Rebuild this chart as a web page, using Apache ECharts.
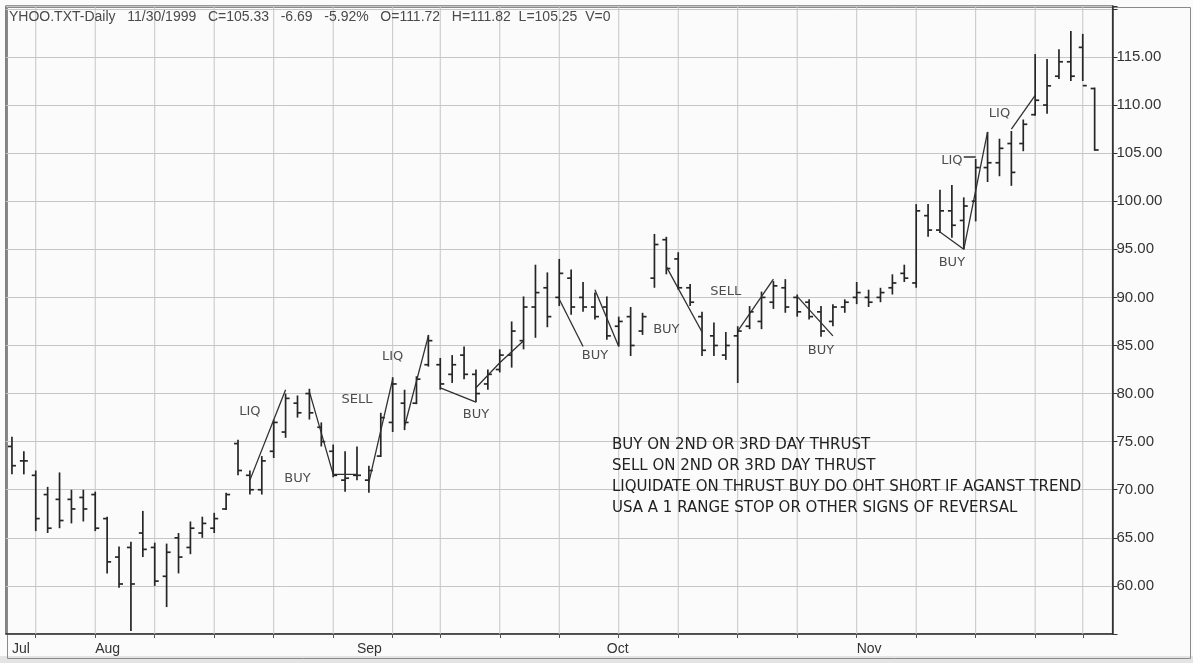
<!DOCTYPE html>
<html><head><meta charset="utf-8">
<script src="https://cdn.jsdelivr.net/npm/echarts@6/dist/echarts.min.js"></script>
<style>html,body{margin:0;padding:0;background:#fbfbfb}#c{width:1193px;height:663px}</style>
</head><body><div id="c"></div>
<script>
// ---- data ----
const dates = [
 '1999-07-22','1999-07-23','1999-07-26','1999-07-27','1999-07-28','1999-07-29','1999-07-30',
 '1999-08-02','1999-08-03','1999-08-04','1999-08-05','1999-08-06','1999-08-09','1999-08-10','1999-08-11','1999-08-12','1999-08-13',
 '1999-08-16','1999-08-17','1999-08-18','1999-08-19','1999-08-20','1999-08-23','1999-08-24','1999-08-25','1999-08-26','1999-08-27',
 '1999-08-30','1999-08-31','1999-09-01','1999-09-02','1999-09-03','1999-09-07','1999-09-08','1999-09-09','1999-09-10',
 '1999-09-13','1999-09-14','1999-09-15','1999-09-16','1999-09-17','1999-09-20','1999-09-21','1999-09-22','1999-09-23','1999-09-24',
 '1999-09-27','1999-09-28','1999-09-29','1999-09-30','1999-10-01','1999-10-04','1999-10-05','1999-10-06','1999-10-07','1999-10-08',
 '1999-10-11','1999-10-12','1999-10-13','1999-10-14','1999-10-15','1999-10-18','1999-10-19','1999-10-20','1999-10-21','1999-10-22',
 '1999-10-25','1999-10-26','1999-10-27','1999-10-28','1999-10-29','1999-11-01','1999-11-02','1999-11-03','1999-11-04','1999-11-05',
 '1999-11-08','1999-11-09','1999-11-10','1999-11-11','1999-11-12','1999-11-15','1999-11-16','1999-11-17','1999-11-18','1999-11-19',
 '1999-11-22','1999-11-23','1999-11-24','1999-11-26','1999-11-29','1999-11-30'
];
const opens = [74.5,73,71.5,69.5,69,69,69.2, 69.5,67,63,64,65.5,64,61,65,64,65.5, 66,68,74.8,71.5,70,74,76,79,80,76.5,
 74,71,71.5,71,73.5,77,79,79,83, 83,82,84,82,81,82.5,84,85.5,89,91, 90,92,90,89,89,87,88,86.5,92,96,
 94,91,88,86,84,86,87,87.5,89.5,91, 90,89.5,88.5,87.5,89,90,90,90,91,92.5, 91.5,98.5,97,99,98,100,103.5,104,106,106,
 109,110,113,114.5,116,111.72];
const highs = [75.5,74,72,70.3,71.8,70,70, 69.8,67.2,64.1,64.6,67.8,64.5,64.4,65.5,66.7,67.2, 67.6,69.7,75.2,72,73.5,77.3,80,79.8,80.5,77,
 74.7,74,74.5,72.5,78,81.7,80.4,81.8,86.1, 83.7,84,84.9,82.5,82.5,84.6,87.5,90.1,93.4,92.6, 94,92.9,91.6,90.5,90.1,88,89,88.4,96.6,96.3,
 94.7,91.4,88.5,87.4,86.4,87,89.1,90.6,91.7,91.9, 90.3,89.8,89.1,89.3,89.8,91.6,90.8,91,92.4,93.4, 99.7,99.7,101.2,101.7,100.4,104.4,107.2,106.5,107.3,108.5,
 115.3,114.8,115.8,117.7,117.4,111.82];
const lows = [71.6,71.6,65.7,65.5,66,66.5,66.7, 65.7,61.3,59.8,55.3,63,60,57.8,61.3,63.3,65, 65.5,67.9,71.5,69.5,69.5,73.3,75.4,77.5,77.3,74.5,
 71.3,69.8,71,69.7,73.4,76,76.2,78.9,82.8, 80.4,81.1,81.5,79.1,80.4,82.2,82.7,84.6,85.8,86.9, 89.1,88.2,88.5,87.7,85.6,84.9,83.9,86.1,91,92.4,
 90.8,89.1,83.9,83.9,83.5,81.1,86.7,86.7,88.8,88.4, 88,87.7,85.9,87,88.4,89.3,89,89.5,90.3,91.6, 91,96.3,96.7,96.2,95,97.9,102,102.6,101.6,105.2,
 108.9,109.1,112.7,112.5,112.5,105.25];
const closes = [72.5,73,67,66,66.8,68,68, 66,62.5,60.2,60.2,63.8,60.5,63.5,63,66,66.5, 67,69.5,72,70,73,77,79.5,78,78,75,
 71.5,71.2,71.5,72,77.5,81,77,81.5,85.5, 81,83,82,80,82,84,86.5,89,90.5,88, 92.5,89,89,88,86,87.5,85,88,95.5,93,
 91,89.5,84.5,85,85,86.5,88.5,90,91.2,89, 88.5,88,86.5,89,89.5,90.5,89.5,90.5,91.5,92, 99,97,99,97.5,99.5,103.5,104,105.5,103,108,
 110.5,112,114.5,113,112.02,105.33];
const monthStarts = [0, 7, 29, 50, 71];
const monthNames = ['Jul', 'Aug', 'Sep', 'Oct', 'Nov'];
const weekStarts = [2, 7, 12, 17, 22, 27, 32, 36, 41, 46, 51, 56, 61, 66, 71, 76, 81, 86, 90];
const yMin = 55, yMax = 120.3, yStep = 5;
const yLabelMin = 60, yLabelMax = 115;
// hand-drawn trend lines: [barIndex, price] points
const trendLines = [
 [[20.3, 71.0], [23.1, 80.4]],
 [[21.6, 78.1], [22.3, 78.1]],
 [[24.8, 80.2], [26.8, 71.6], [28.9, 71.6]],
 [[29.9, 70.8], [32.0, 81.5]],
 [[32.6, 76.6], [35.0, 86.0]],
 [[36.0, 80.6], [38.8, 79.1]],
 [[38.8, 80.6], [40.6, 83.2], [42.5, 85.5]],
 [[45.8, 89.8], [48.3, 84.9]],
 [[48.7, 90.8], [51.0, 84.9]],
 [[55.4, 93.2], [58.3, 86.4]],
 [[60.9, 86.5], [63.9, 91.9]],
 [[65.7, 90.1], [68.6, 86.0]],
 [[77.8, 96.8], [79.8, 95.0], [82.4, 107.2]],
 [[79.8, 104.6], [80.6, 104.6]],
 [[83.5, 107.5], [85.8, 111.0]]
];
const signalNames = ['LIQ', 'BUY', 'SELL', 'LIQ', 'BUY', 'BUY', 'BUY', 'SELL', 'BUY', 'LIQ', 'BUY', 'LIQ'];
const signalX = [20.0, 24.3, 29.0, 32.3, 39.0, 49.3, 54.5, 60.3, 68.2, 78.7, 79.1, 83.0];
const signalY = [78.1, 71.2, 79.4, 83.8, 77.8, 83.9, 86.7, 90.6, 84.5, 104.2, 93.6, 109.1];
const headerText = 'YHOO.TXT-Daily   11/30/1999   C=105.33   -6.69   -5.92%   O=111.72   H=111.82  L=105.25  V=0';
const notes = [
 'BUY ON 2ND OR 3RD DAY THRUST',
 'SELL ON 2ND OR 3RD DAY THRUST',
 'LIQUIDATE ON THRUST BUY DO OHT SHORT IF AGANST TREND',
 'USA A 1 RANGE STOP OR OTHER SIGNS OF REVERSAL'
];

// ---- chart ----
const cats = dates.concat(['']);
const ohlc = dates.map((d, i) => [i, opens[i], highs[i], lows[i], closes[i]]);
const ink = '#262626';

const series = [];
series.push({
  type: 'custom', z: 1, silent: true,
  data: weekStarts.map(i => [i]),
  encode: { x: 0 },
  renderItem: function (params, api) {
    const i = api.value(0);
    const a = api.coord([i, yMin]);
    const b = api.coord([i, yMax]);
    return { type: 'line', shape: { x1: a[0], y1: a[1], x2: b[0], y2: b[1] },
      style: { stroke: '#c6c6c6', lineWidth: 1 } };
  }
});
series.push({
  type: 'custom', z: 5,
  data: ohlc,
  encode: { x: 0, y: [1, 2, 3, 4] },
  renderItem: function (params, api) {
    const i = api.value(0);
    const pO = api.coord([i, api.value(1)]);
    const pH = api.coord([i, api.value(2)]);
    const pL = api.coord([i, api.value(3)]);
    const pC = api.coord([i, api.value(4)]);
    const t = 4;
    const st = { stroke: ink, lineWidth: 1.7 };
    return { type: 'group', children: [
      { type: 'line', shape: { x1: pH[0], y1: pH[1], x2: pL[0], y2: pL[1] }, style: st },
      { type: 'line', shape: { x1: pO[0] - t, y1: pO[1], x2: pO[0], y2: pO[1] }, style: st },
      { type: 'line', shape: { x1: pC[0], y1: pC[1], x2: pC[0] + t, y2: pC[1] }, style: st }
    ] };
  }
});
trendLines.forEach(pts => {
  series.push({ type: 'line', z: 6, silent: true, symbol: 'none', data: pts,
    lineStyle: { color: '#303030', width: 1.3 } });
});
series.push({
  type: 'scatter', z: 7, silent: true, symbolSize: 1,
  itemStyle: { color: 'rgba(0,0,0,0)' },
  data: signalNames.map((n, k) => ({ name: n, value: [signalX[k], signalY[k]] })),
  label: { show: true, position: 'inside', formatter: '{b}', color: '#222',
    fontFamily: 'DejaVu Sans', fontSize: 13 }
});

const graphic = [
  { type: 'rect', left: 0, top: 656, shape: { width: 1193, height: 7 }, style: { fill: '#e4e4e4' }, z: -1 },
  { type: 'rect', left: 5, top: 5, shape: { width: 1183, height: 651 }, style: { fill: 'none', stroke: '#8a8a8a', lineWidth: 1 }, z: -1 },
  { type: 'text', left: 9, top: 10, style: { text: headerText, fill: '#4a4a4a', font: '14px "Liberation Sans"' }, z: 10 }
];
notes.forEach((n, k) => graphic.push({ type: 'text', left: 612, top: 438 + k * 21,
  style: { text: n, fill: '#222', font: '15px "DejaVu Sans"' }, z: 10 }));

const chart = echarts.init(document.getElementById('c'), null, { renderer: 'canvas' });
chart.setOption({
  animation: false,
  backgroundColor: '#fbfbfb',
  grid: { left: 6, right: 80.5, top: 6, bottom: 29, show: true, borderColor: '#333', borderWidth: 1.2 },
  xAxis: {
    type: 'category', data: cats, boundaryGap: true,
    axisLine: { show: true, lineStyle: { color: '#333', width: 1.5 } },
    axisTick: { show: true, alignWithLabel: true, length: 4, interval: (i) => weekStarts.includes(i),
      lineStyle: { color: '#555' } },
    axisLabel: { show: true, interval: (i) => monthStarts.includes(i),
      formatter: (v, i) => { const k = monthStarts.indexOf(i); return k >= 0 ? monthNames[k] : ''; },
      align: 'left', margin: 8, color: '#333', fontSize: 14, fontFamily: 'Liberation Sans' },
    splitLine: { show: false }
  },
  yAxis: {
    type: 'value', position: 'right', min: yMin, max: yMax, interval: yStep,
    axisLine: { show: true, lineStyle: { color: '#333', width: 1.5 } },
    axisTick: { show: true, length: 5, lineStyle: { color: '#333' } },
    axisLabel: { color: '#333', fontSize: 15, fontFamily: 'Liberation Sans', margin: 4,
      formatter: v => (v >= yLabelMin && v <= yLabelMax) ? v.toFixed(2) : '' },
    splitLine: { show: true, lineStyle: { color: '#c6c6c6', width: 1 } }
  },
  graphic: graphic,
  series: series
});
</script>
</body></html>
